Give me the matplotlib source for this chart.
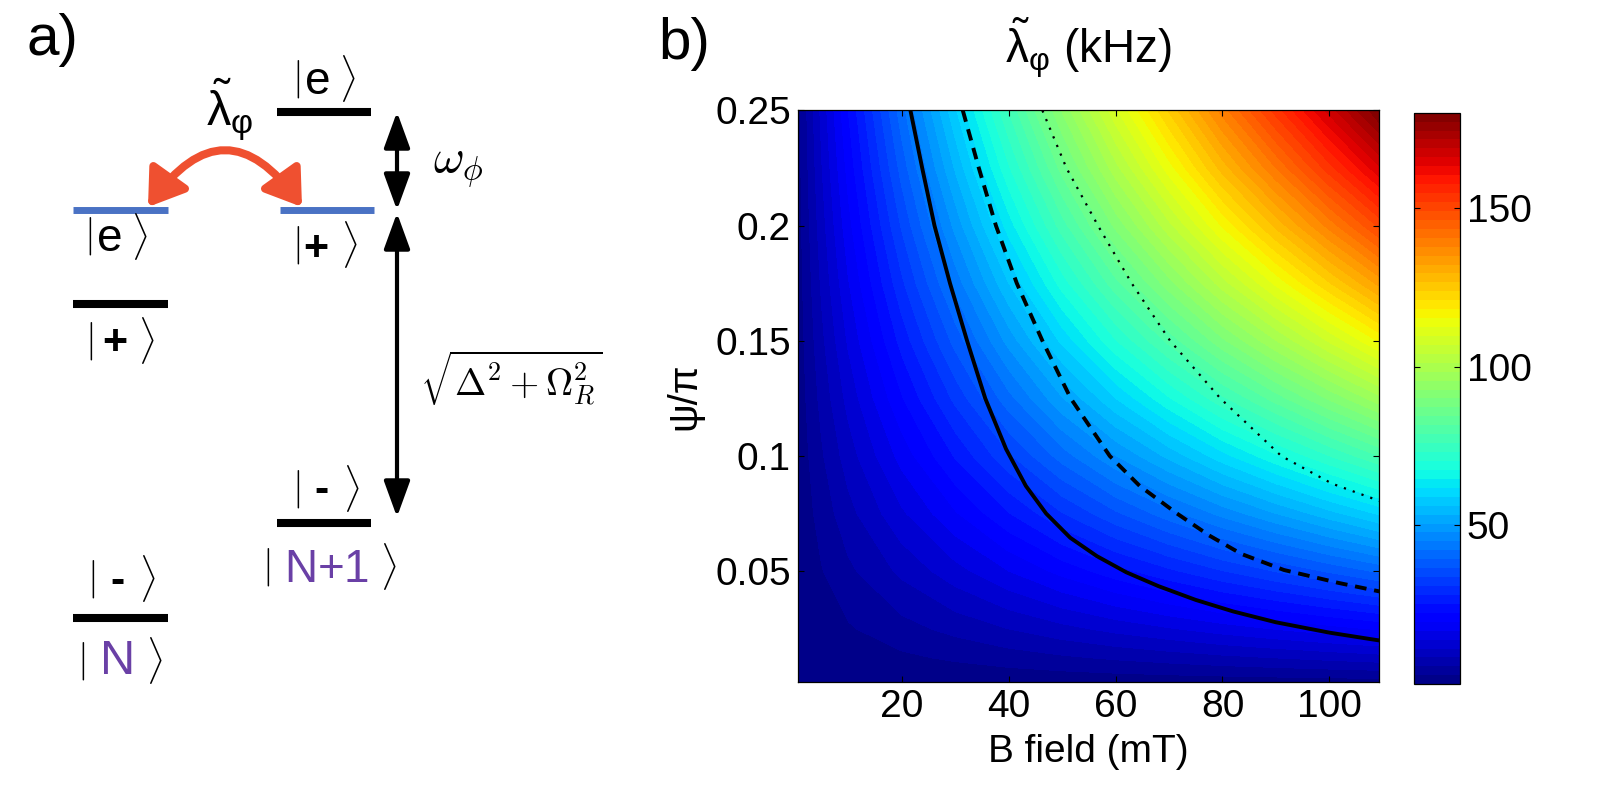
import numpy as np
import matplotlib
matplotlib.use('Agg')
import matplotlib.pyplot as plt
from matplotlib.patches import FancyArrowPatch

plt.rcParams['font.family'] = ['Liberation Sans', 'DejaVu Sans']
plt.rcParams['mathtext.fontset'] = 'custom'
plt.rcParams['mathtext.rm'] = 'Liberation Sans'
plt.rcParams['mathtext.it'] = 'Liberation Sans'
plt.rcParams['mathtext.bf'] = 'Liberation Sans:bold'

# lambda_phi (kHz), rows = psi/pi, columns = B (mT)
B_grid = [0.5, 5, 10, 20, 30, 40, 50, 60, 70, 80, 90, 100, 109.35]
psi_grid = [0.002, 0.0125, 0.025, 0.05, 0.075, 0.1, 0.125, 0.15, 0.175, 0.2, 0.225, 0.25]
lam = [
    [0.01, 0.11, 0.2, 0.36, 0.52, 0.68, 0.83, 0.97, 1.1, 1.24, 1.36, 1.48, 1.6],
    [0.09, 0.67, 1.25, 2.28, 3.25, 4.22, 5.16, 6.05, 6.88, 7.72, 8.49, 9.27, 9.99],
    [0.18, 1.33, 2.5, 4.55, 6.49, 8.44, 10.32, 12.1, 13.76, 15.43, 16.98, 18.54, 19.98],
    [0.35, 2.65, 4.98, 9.07, 12.94, 16.81, 20.57, 24.11, 27.43, 30.75, 33.84, 36.94, 39.82],
    [0.53, 3.96, 7.43, 13.53, 19.31, 25.09, 30.7, 35.98, 40.93, 45.88, 50.51, 55.13, 59.42],
    [0.7, 5.24, 9.83, 17.92, 25.56, 33.21, 40.64, 47.63, 54.19, 60.74, 66.86, 72.98, 78.66],
    [0.87, 6.49, 12.18, 22.19, 31.66, 41.13, 50.33, 58.99, 67.11, 75.23, 82.8, 90.38, 97.42],
    [1.03, 7.7, 14.45, 26.32, 37.56, 48.79, 59.71, 69.98, 79.61, 89.24, 98.23, 107.2, 115.6],
    [1.18, 8.87, 16.63, 30.29, 43.23, 56.16, 68.72, 80.54, 91.62, 102.7, 113.1, 123.4, 133.0],
    [1.33, 9.98, 18.7, 34.08, 48.63, 63.18, 77.31, 90.61, 103.1, 115.6, 127.2, 138.8, 149.6],
    [1.47, 11.02, 20.67, 37.66, 53.73, 69.81, 85.42, 100.1, 113.9, 127.7, 140.5, 153.4, 165.3],
    [1.6, 12.0, 22.5, 41.0, 58.5, 76.0, 93.0, 109.0, 124.0, 139.0, 153.0, 167.0, 180.0],
]

# the three black curves
solid_B = [21.6, 23.8, 26.1, 29.0, 32.2, 35.6, 39.5, 43.2, 47.0, 51.5, 56.5, 62.0, 68.0, 75.0, 82.0, 90.0, 100.0, 109.35]
solid_psi = [0.25, 0.225, 0.2, 0.175, 0.15, 0.125, 0.103, 0.087, 0.075, 0.0645, 0.0565, 0.0495, 0.0435, 0.0375, 0.0325, 0.0278, 0.0233, 0.0199]
dash_B = [31.4, 34.4, 37.6, 41.5, 46.3, 51.6, 58.9, 64.5, 71.5, 77.5, 83.5, 91.5, 101.7, 109.35]
dash_psi = [0.25, 0.225, 0.2, 0.175, 0.15, 0.125, 0.1, 0.087, 0.075, 0.0655, 0.0575, 0.0505, 0.0449, 0.0412]
dot_B = [46.3, 50.8, 56.7, 63.0, 70.2, 79.6, 91.0, 100.5, 109.35]
dot_psi = [0.25, 0.225, 0.2, 0.175, 0.15, 0.125, 0.1, 0.088, 0.0805]

x_ticks = [20, 40, 60, 80, 100]
y_ticks = [0.05, 0.1, 0.15, 0.2, 0.25]
y_ticklabels = ['0.05', '0.1', '0.15', '0.2', '0.25']
cb_ticks = [50, 100, 150]

fig = plt.figure(figsize=(16.18, 7.94), dpi=100, facecolor='w')

# ---- panel a: level scheme, drawn in pixel coordinates ----
ov = fig.add_axes([0, 0, 1, 1])
ov.set_xlim(0, 1618)
ov.set_ylim(794, 0)
ov.axis('off')

blue = '#4a72c4'
purple = '#6a40a6'
red = '#ef5030'


def level(x0, x1, y, c='k', lw=5.8):
    ov.plot([x0, x1], [y, y], color=c, lw=lw, solid_capstyle='butt')


def ket(xbar, xlet, xbr, y, letter, ylet, size=33, color='k', va='center', weight='normal'):
    ov.text(xbar, y, r'$|$', fontsize=28, ha='left', va='center', math_fontfamily='cm')
    ov.text(xlet, ylet, letter, fontsize=size, ha='left', va=va, color=color,
            fontweight=weight)
    ov.text(xbr, y, r'$\rangle$', fontsize=28, ha='left', va='center', math_fontfamily='cm')


level(277, 371, 112)
level(73, 168, 210, blue, 5.0)
level(280, 374, 210, blue, 5.0)
level(73, 168, 304)
level(277, 371, 523)
level(73, 168, 618)

ket(292, 304, 339, 79, r'$\mathrm{e}$', 82)
ket(84, 96, 131, 236, r'$\mathrm{e}$', 239)
ket(292, 303, 341, 245, r'$\mathbf{+}$', 247, size=31)
ket(85, 102, 138, 341, r'$\mathbf{+}$', 341, size=31)
ket(292, 314, 343, 489, '-', 502, size=31, va='baseline', weight='bold')
ket(87, 110, 139, 579, '-', 593, size=31, va='baseline', weight='bold')
ket(262, 284, 380, 567, r'$\mathrm{N{+}1}$', 570, color=purple)
ket(77, 99, 146, 661, r'$\mathrm{N}$', 662, size=35, color=purple)

ov.text(27, 40, 'a)', fontsize=42, ha='left', va='center')
ov.text(658, 44, 'b)', fontsize=42, ha='left', va='center')

ov.text(230, 110, r'$\tilde{\lambda}_{\varphi}$', fontsize=35, ha='center', va='center')
ov.text(433, 168, r'$\omega_\phi$', fontsize=34, ha='left', va='center', math_fontfamily='cm')
ov.text(420, 378, r'$\sqrt{\Delta^2+\Omega_R^2}$', fontsize=27, ha='left', va='center',
        math_fontfamily='cm')

arr = FancyArrowPatch((148, 207), (302, 207), connectionstyle='arc3,rad=-0.7',
                      arrowstyle='<|-|>,head_length=1.05,head_width=0.7',
                      mutation_scale=20, color=red, lw=5.8, shrinkA=0, shrinkB=0)
ov.add_patch(arr)

for ya, yb in [(112, 210), (213, 517)]:
    ov.annotate('', xy=(397, ya), xytext=(397, yb),
                arrowprops=dict(arrowstyle='<|-|>,head_length=1.1,head_width=0.4',
                                mutation_scale=20, color='k', lw=3, shrinkA=0, shrinkB=0))

# ---- panel b: lambda map ----
ax = fig.add_axes([0.49302, 0.14144, 0.35946, 0.71940])
levels = np.linspace(0, 180, 65)
cs = ax.contourf(B_grid, psi_grid, lam, levels=levels, cmap='jet', vmin=0, vmax=180)
cs.set_edgecolor('face')
cs.set_linewidth(0.3)

ax.plot(solid_B, solid_psi, color='k', lw=2.8)
ax.plot(dash_B, dash_psi, color='k', lw=2.8, ls=(0, (3, 2)))
ax.plot(dot_B, dot_psi, color='k', lw=1.6, ls=(0, (1, 3.2)))

ax.set_xlim(0.5, 109.35)
ax.set_ylim(0.002, 0.25)
ax.set_xticks(x_ticks)
ax.set_yticks(y_ticks)
ax.set_yticklabels(y_ticklabels)
ax.tick_params(direction='in', top=True, right=True, length=4, width=0.8,
               labelsize=28, pad=5)
for s in ax.spines.values():
    s.set_linewidth(0.9)

fig.text(1088.5 / 1618, 1 - 762 / 794, 'B field (mT)', fontsize=28, ha='center', va='baseline')
fig.text(684 / 1618, 1 - 396 / 794, '\u03c8/\u03c0', fontsize=29, rotation=90, ha='center', va='center')
fig.text(1088.5 / 1618, 1 - 64 / 794, r'$\tilde{\lambda}_{\varphi}$ (kHz)', fontsize=33,
         ha='center', va='baseline')

cax = fig.add_axes([0.8741, 0.1382, 0.02825, 0.7199])
cb = fig.colorbar(cs, cax=cax, ticks=cb_ticks)
cax.tick_params(direction='in', left=True, right=True, length=4, width=0.8,
                labelsize=28, pad=5)
cb.outline.set_linewidth(0.9)

fig.savefig('out.png', dpi=100)
